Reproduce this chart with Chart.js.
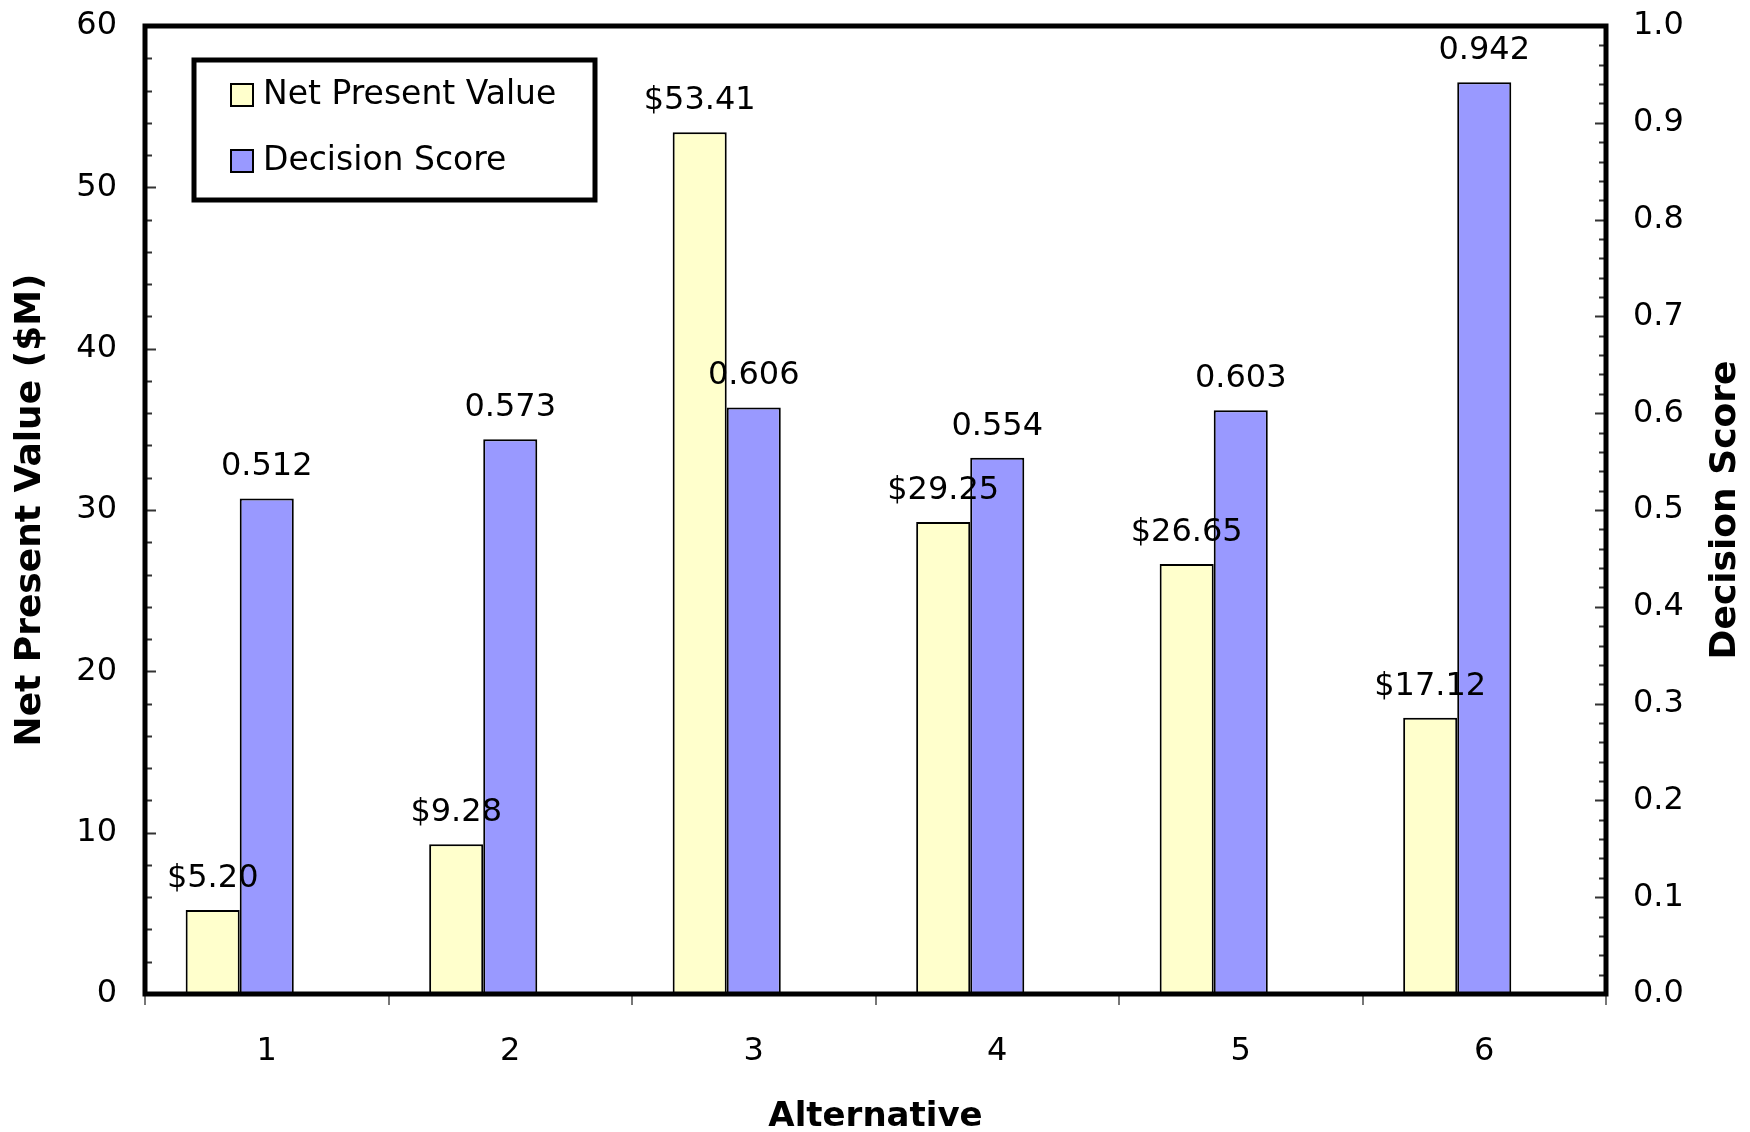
<!DOCTYPE html>
<html>
<head>
<meta charset="utf-8">
<script src="https://cdn.jsdelivr.net/npm/chart.js@4.4.1/dist/chart.umd.min.js"></script>
<style>
    html, body { margin: 0; padding: 0; background: #fff; }
</style>
</head>
<body>
<canvas id="npvChart" width="1750" height="1132"></canvas>
<script>
const alternatives = ["1", "2", "3", "4", "5", "6"];
const npvValues = [5.20, 9.28, 53.41, 29.25, 26.65, 17.12];
const scoreValues = [0.512, 0.573, 0.606, 0.554, 0.603, 0.942];

const FONT = "'DejaVu Sans', sans-serif";

// thick frame + inward minor ticks like the old Excel plot
const framePlugin = {
    id: "frame",
    afterDraw(chart) {
        const { ctx, chartArea: a, scales } = chart;
        ctx.save();
        ctx.strokeStyle = "#333";
        ctx.lineWidth = 2;
        ctx.beginPath();
        for (let v = 0; v <= 60; v += 2) {
            const y = Math.round(scales.y.getPixelForValue(v)) + 0.5;
            const len = v % 10 === 0 ? 11 : 7;
            ctx.moveTo(a.left, y);
            ctx.lineTo(a.left + len, y);
        }
        for (let i = 0; i <= 50; i++) {
            const y = Math.round(scales.y1.getPixelForValue(i / 50)) + 0.5;
            const len = i % 5 === 0 ? 11 : 7;
            ctx.moveTo(a.right, y);
            ctx.lineTo(a.right - len, y);
        }
        ctx.stroke();

        // category boundary ticks below the x axis
        ctx.strokeStyle = "#777";
        ctx.beginPath();
        for (let i = 0; i <= alternatives.length; i++) {
            let x;
            if (i === 0) x = a.left;
            else if (i === alternatives.length) x = a.right;
            else x = (scales.x.getPixelForValue(i - 1) + scales.x.getPixelForValue(i)) / 2;
            ctx.moveTo(Math.round(x), a.bottom);
            ctx.lineTo(Math.round(x), a.bottom + 11);
        }
        ctx.stroke();

        ctx.strokeStyle = "#000";
        ctx.lineWidth = 5;
        ctx.strokeRect(a.left, a.top, a.right - a.left, a.bottom - a.top);

        // legend box inside the plot
        const lx = a.left + 49, ly = a.top + 34, lw = 401, lh = 140;
        ctx.fillStyle = "#fff";
        ctx.fillRect(lx, ly, lw, lh);
        ctx.lineWidth = 5;
        ctx.strokeRect(lx, ly, lw, lh);
        ctx.font = "33px " + FONT;
        ctx.textBaseline = "middle";
        ctx.textAlign = "left";
        [0, 1].forEach((di, k) => {
            const ds = chart.data.datasets[di];
            const cy = ly + 35 + k * 66;
            ctx.fillStyle = ds.backgroundColor;
            ctx.fillRect(lx + 37, cy - 11, 22, 22);
            ctx.lineWidth = 2;
            ctx.strokeStyle = "#000";
            ctx.strokeRect(lx + 37, cy - 11, 22, 22);
            ctx.fillStyle = "#000";
            ctx.fillText(ds.label, lx + 69, cy);
        });

        // right axis title reads bottom-to-top like the left one
        ctx.font = "bold 36px " + FONT;
        ctx.textAlign = "center";
        ctx.translate(1726, (a.top + a.bottom) / 2);
        ctx.rotate(-Math.PI / 2);
        ctx.fillText("Decision Score", 0, 0);
        ctx.restore();
    },
};

// value labels above the bars
const valueLabels = {
    id: "valueLabels",
    afterDatasetsDraw(chart) {
        const { ctx } = chart;
        ctx.save();
        ctx.font = "32px " + FONT;
        ctx.fillStyle = "#000";
        ctx.textAlign = "center";
        ctx.textBaseline = "alphabetic";
        chart.getDatasetMeta(0).data.forEach((bar, i) => {
            ctx.fillText("$" + npvValues[i].toFixed(2), bar.x, bar.y - 23);
        });
        chart.getDatasetMeta(1).data.forEach((bar, i) => {
            ctx.fillText(scoreValues[i].toFixed(3), bar.x, bar.y - 23);
        });
        ctx.restore();
    },
};

const ctx = document.getElementById("npvChart").getContext("2d");

new Chart(ctx, {
    type: "bar",
    data: {
        labels: alternatives,
        datasets: [
            {
                label: "Net Present Value",
                data: npvValues,
                yAxisID: "y",
                backgroundColor: "#FFFFCC",
                borderColor: "#000",
                borderWidth: 2,
            },
            {
                label: "Decision Score",
                data: scoreValues,
                yAxisID: "y1",
                backgroundColor: "#9999FF",
                borderColor: "#000",
                borderWidth: 2,
            },
            // empty third slot, Excel left room for it so the pair sits left of centre
            { label: "", data: [], yAxisID: "y" },
        ],
    },
    options: {
        responsive: false,
        animation: false,
        devicePixelRatio: 1,
        categoryPercentage: 0.666,
        barPercentage: 1.0,
        layout: { padding: { top: 26, left: 0, right: 0, bottom: 0 } },
        plugins: {
            legend: { display: false },
            tooltip: { enabled: false },
        },
        scales: {
            x: {
                grid: { display: false, drawTicks: false },
                border: { display: false },
                ticks: { color: "#000", font: { family: FONT, size: 32 }, padding: 38 },
                title: {
                    display: true,
                    text: "Alternative",
                    color: "#000",
                    font: { family: FONT, size: 34, weight: "bold", lineHeight: 1.1 },
                    padding: { top: 0, bottom: -4 },
                },
                afterFit: (s) => {
                    s.height = 138;
                    s.paddingLeft = 0;
                    s.paddingRight = 0;
                },
            },
            y: {
                position: "left",
                min: 0,
                max: 60,
                grid: { display: false, drawTicks: false },
                border: { display: false },
                ticks: { stepSize: 10, color: "#000", font: { family: FONT, size: 32 }, padding: 28 },
                title: {
                    display: true,
                    text: "Net Present Value ($M)",
                    color: "#000",
                    font: { family: FONT, size: 36, weight: "bold", lineHeight: 1.1 },
                    padding: { top: 11, bottom: 0 },
                },
                afterFit: (s) => {
                    s.width = 145;
                    s.paddingTop = 0;
                    s.paddingBottom = 0;
                },
            },
            y1: {
                position: "right",
                min: 0,
                max: 1,
                grid: { display: false, drawTicks: false },
                border: { display: false },
                ticks: {
                    stepSize: 0.1,
                    color: "#000",
                    font: { family: FONT, size: 32 },
                    padding: 27,
                    callback: (v) => v.toFixed(1),
                },
                afterFit: (s) => {
                    s.width = 144;
                    s.paddingTop = 0;
                    s.paddingBottom = 0;
                },
            },
        },
    },
    plugins: [valueLabels, framePlugin],
});
</script>
</body>
</html>
